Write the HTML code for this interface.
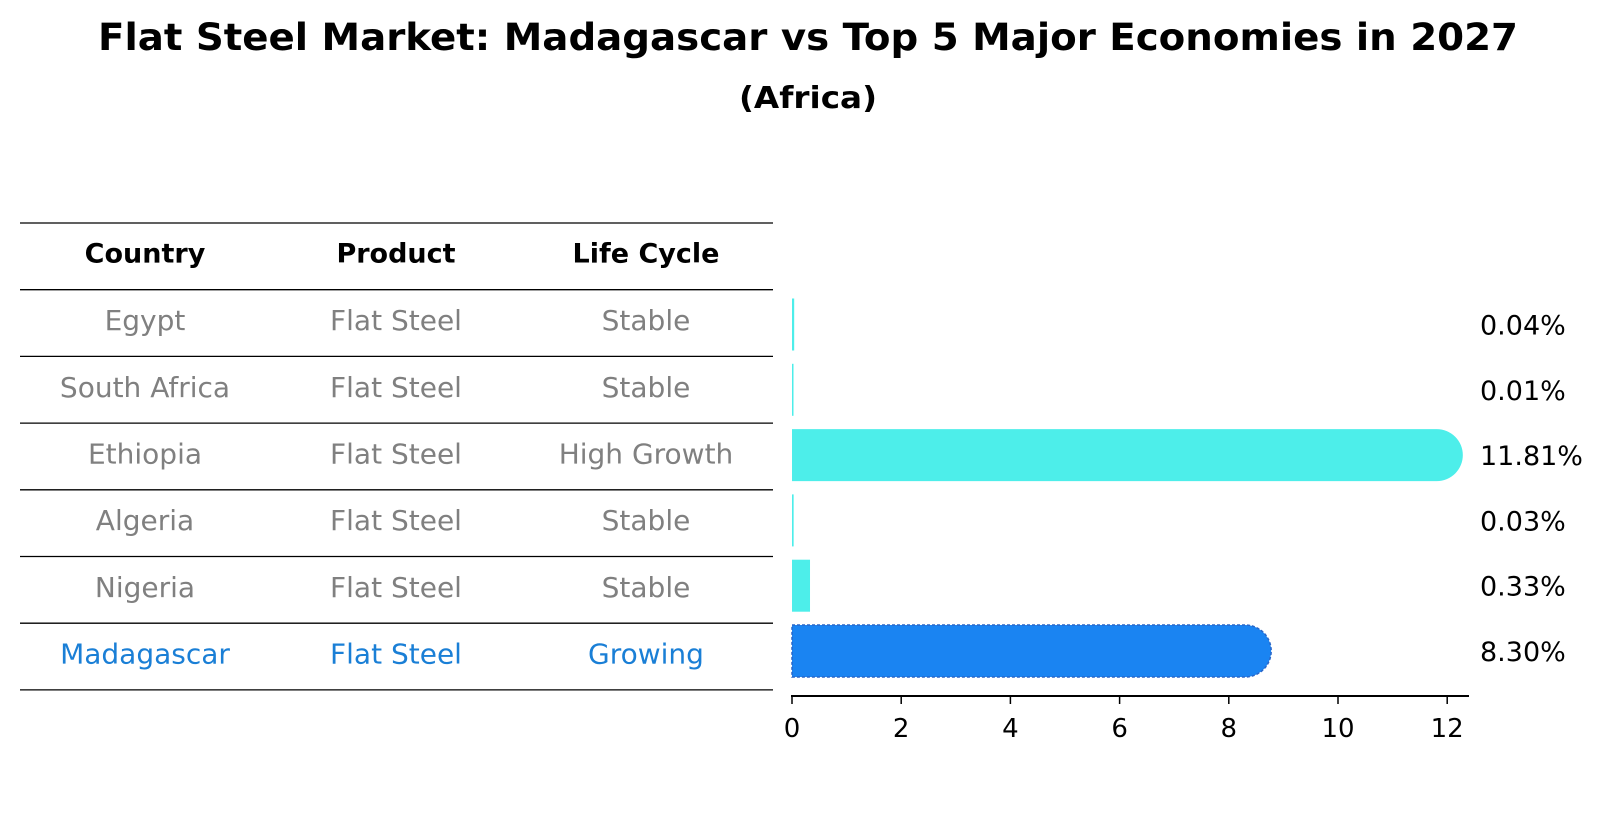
<!DOCTYPE html>
<html><head><meta charset="utf-8"><style>
html,body{margin:0;padding:0;background:#fff;}
svg{display:block;font-family:"DejaVu Sans","Liberation Sans",sans-serif;}
</style></head><body>
<svg id="chart" width="1604" height="823" viewBox="0 0 1604 823">
<text x="808" y="50" text-anchor="middle" font-size="37" font-weight="bold" textLength="1420" lengthAdjust="spacingAndGlyphs">Flat Steel Market: Madagascar vs Top 5 Major Economies in 2027</text>
<text x="808" y="108" text-anchor="middle" font-size="30" font-weight="bold" textLength="138" lengthAdjust="spacingAndGlyphs">(Africa)</text>
<g id="table"></g>
<g id="bars"></g>
</svg>
<script>
const countries = ["Egypt","South Africa","Ethiopia","Algeria","Nigeria","Madagascar"];
const products = ["Flat Steel","Flat Steel","Flat Steel","Flat Steel","Flat Steel","Flat Steel"];
const lifeCycles = ["Stable","Stable","High Growth","Stable","Stable","Growing"];
const values = [0.04,0.01,11.81,0.03,0.33,8.30];
const valueLabels = ["0.04%","0.01%","11.81%","0.03%","0.33%","8.30%"];
const xTicks = [0,2,4,6,8,10,12];
const highlight = "Madagascar";

const NS="http://www.w3.org/2000/svg";
function mk(tag,attrs,parent){const e=document.createElementNS(NS,tag);for(const k in attrs)e.setAttribute(k,attrs[k]);parent.appendChild(e);return e;}
const xScale=v=>792+54.6*v;
const rowTop=223, rowH=66.7;
const barY=i=>324.5+65.3*i;

const table=document.getElementById('table');
const colX=[145,396,646];
for(let i=0;i<=7;i++){
  const y=rowTop+rowH*i;
  const ln=mk('line',{x1:20,x2:773,y1:y,y2:y,stroke:'#000','stroke-width':1.3},table);
  
  
}
const headers=["Country","Product","Life Cycle"];
headers.forEach((h,j)=>{
  const t=mk('text',{x:colX[j],y:rowTop+rowH/2+6,'text-anchor':'middle','font-size':27,'font-weight':'bold',fill:'#000'},table);
  t.textContent=h;
  
  
});
countries.forEach((c,i)=>{
  const y=rowTop+rowH*(i+1)+rowH/2+7;
  const col=c===highlight?'#1a7fd6':'#808080';
  [c,products[i],lifeCycles[i]].forEach((v,j)=>{
    const t=mk('text',{x:colX[j],y:y,'text-anchor':'middle','font-size':28,fill:col},table);
    t.textContent=v;
    
    
  });
});

const bars=document.getElementById('bars');
const bh=52;
values.forEach((v,i)=>{
  const cy=barY(i);
  const isH=countries[i]===highlight;
  const fill=isH?'#1a84f2':'#4deeea';
  const x0=xScale(0), x1=xScale(v);
  const w=Math.max(x1-x0,1.5);
  const capped=v>1;
  let b;
  if(capped){
    const r=bh/2;
    b=mk('path',{d:`M${x0},${cy-r} L${x1},${cy-r} A${r},${r} 0 0 1 ${x1},${cy+r} L${x0},${cy+r} Z`,fill:fill},bars);
  } else {
    b=mk('rect',{x:x0,y:cy-bh/2,width:w,height:bh,fill:fill},bars);
  }
  if(isH){b.setAttribute('stroke','#2a66c8');b.setAttribute('stroke-width','1.5');b.setAttribute('stroke-dasharray','3,2');}
  
  
  const t=mk('text',{x:1480,y:cy+10,'font-size':27,fill:'#000'},bars);
  t.textContent=valueLabels[i];
  
  
});
const ax=mk('line',{x1:791,x2:1469,y1:696,y2:696,stroke:'#000','stroke-width':2},bars);


xTicks.forEach(v=>{
  const x=xScale(v);
  const tk=mk('line',{x1:x,x2:x,y1:696,y2:704,stroke:'#000','stroke-width':1.5},bars);
  
  
  const t=mk('text',{x:x,y:737,'text-anchor':'middle','font-size':26,fill:'#000'},bars);
  t.textContent=v;
  
  
});
</script>
</body></html>
